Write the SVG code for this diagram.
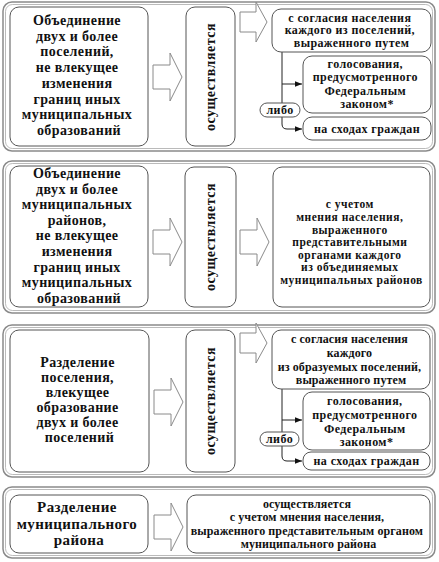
<svg xmlns="http://www.w3.org/2000/svg" width="439" height="562" viewBox="0 0 439 562">
<defs>
<style>
.panel{fill:#fff;stroke:#8a8a8a;stroke-width:1.5}
.panel-in{fill:none;stroke:#a8a8a8;stroke-width:0.8}
.box{fill:#fff;stroke:#555;stroke-width:1}
.big{fill:#fff;stroke:#8a8a8a;stroke-width:1}
.t{font-family:'Liberation Serif','Times New Roman','DejaVu Serif',serif;font-weight:700;fill:#111;text-anchor:middle}
.t13{font-size:14px;letter-spacing:0.4px}
.tv{font-size:14px;letter-spacing:0.5px}
.t12{font-size:12px;letter-spacing:0.4px}
.t12n{font-size:12px;letter-spacing:0.1px}
.t11{font-size:11.5px;letter-spacing:0.5px}
.t14{font-size:15px;letter-spacing:0.4px}
.link{fill:none;stroke:#222;stroke-width:1}
</style>
<marker id="ah" viewBox="0 0 10 10" refX="10" refY="5" markerWidth="7" markerHeight="7" markerUnits="userSpaceOnUse" orient="auto">
<path d="M0,1 L10,5 L0,9 Z" fill="#111"/>
</marker>
<path id="barrow" d="M0,-12 H17 V-24 L29,0 L17,24 V12 H0 Z"/>
<path id="sarrow" d="M0,-10 H16 V-20 L27,0 L16,20 V10 H0 Z"/>
</defs>
<rect width="439" height="562" fill="#fff"/>

<!-- Panels -->
<g id="panel1">
<rect class="panel" x="3" y="2" width="432" height="149" rx="9"/>
<rect class="panel-in" x="5.5" y="4.5" width="427" height="144" rx="7"/>
</g>
<g id="panel2">
<rect class="panel" x="3" y="161" width="432" height="152" rx="9"/>
<rect class="panel-in" x="5.5" y="163.5" width="427" height="147" rx="7"/>
</g>
<g id="panel3">
<rect class="panel" x="3" y="325" width="432" height="152" rx="9"/>
<rect class="panel-in" x="5.5" y="327.5" width="427" height="147" rx="7"/>
</g>
<g id="panel4">
<rect class="panel" x="3" y="487" width="432" height="71" rx="9"/>
<rect class="panel-in" x="5.5" y="489.5" width="427" height="66" rx="7"/>
</g>

<!-- Connectors -->
<g id="connectors">
<use href="#barrow" class="big" transform="translate(153,77)"/>
<use href="#sarrow" class="big" transform="translate(240,22)"/>
<path class="link" d="M282,52 V124 Q282,129 287,129 H302" marker-end="url(#ah)"/>
<path class="link" d="M282,84 H302" marker-end="url(#ah)"/>

<use href="#barrow" class="big" transform="translate(153,242)"/>
<use href="#barrow" class="big" transform="translate(240,242)"/>

<use href="#barrow" class="big" transform="translate(154,402)"/>
<use href="#sarrow" class="big" transform="translate(240,343)"/>
<path class="link" d="M282,389 V456 Q282,461 287,461 H302" marker-end="url(#ah)"/>
<path class="link" d="M282,420 H302" marker-end="url(#ah)"/>

<use href="#barrow" class="big" transform="translate(154,527)"/>
</g>

<!-- Panel 1 nodes -->
<g id="p1-left">
<rect class="box" x="10" y="7" width="138" height="139" rx="9"/>
<text class="t t13">
<tspan x="79" y="25">Объединение</tspan>
<tspan x="79" y="40.7">двух и более</tspan>
<tspan x="79" y="56.4">поселений,</tspan>
<tspan x="79" y="72.1">не влекущее</tspan>
<tspan x="79" y="87.8">изменения</tspan>
<tspan x="79" y="103.5">границ иных</tspan>
<tspan x="79" y="119.2">муниципальных</tspan>
<tspan x="79" y="134.9">образований</tspan>
</text>
</g>
<g id="p1-mid">
<rect class="box" x="186" y="7" width="49" height="139" rx="9"/>
<text class="t tv" transform="translate(215,77) rotate(-90)">осуществляется</text>
</g>
<g id="p1-b1">
<rect class="box" x="272" y="9" width="159" height="43" rx="9"/>
<text class="t t12">
<tspan x="351.5" y="21.5">с согласия населения</tspan>
<tspan x="351.5" y="34">каждого из поселений,</tspan>
<tspan x="351.5" y="46.5">выраженного путем</tspan>
</text>
</g>
<g id="p1-b2">
<rect class="box" x="303" y="56" width="128" height="57" rx="9"/>
<text class="t t12">
<tspan x="367" y="67.5">голосования,</tspan>
<tspan x="367" y="81">предусмотренного</tspan>
<tspan x="367" y="94.5">Федеральным</tspan>
<tspan x="367" y="108">законом*</tspan>
</text>
</g>
<g id="p1-libo">
<rect class="box" x="260" y="103" width="40" height="14" rx="7"/>
<text class="t t12" x="280" y="114">либо</text>
</g>
<g id="p1-b3">
<rect class="box" x="303" y="117" width="128" height="23" rx="9"/>
<text class="t t12" x="367" y="132.5">на сходах граждан</text>
</g>

<!-- Panel 2 nodes -->
<g id="p2-left">
<rect class="box" x="10" y="166" width="138" height="141" rx="9"/>
<text class="t t13">
<tspan x="79" y="178">Объединение</tspan>
<tspan x="79" y="193.6">двух и более</tspan>
<tspan x="79" y="209.2">муниципальных</tspan>
<tspan x="79" y="224.8">районов,</tspan>
<tspan x="79" y="240.4">не влекущее</tspan>
<tspan x="79" y="256">изменения</tspan>
<tspan x="79" y="271.6">границ иных</tspan>
<tspan x="79" y="287.2">муниципальных</tspan>
<tspan x="79" y="302.8">образований</tspan>
</text>
</g>
<g id="p2-mid">
<rect class="box" x="185" y="167" width="51" height="140" rx="9"/>
<text class="t tv" transform="translate(215,237) rotate(-90)">осуществляется</text>
</g>
<g id="p2-right">
<rect class="box" x="273" y="167" width="157" height="140" rx="9"/>
<text class="t t11">
<tspan x="351.5" y="207.5">с учетом</tspan>
<tspan x="351.5" y="221">мнения населения,</tspan>
<tspan x="351.5" y="233.5">выраженного</tspan>
<tspan x="351.5" y="246">представительными</tspan>
<tspan x="351.5" y="258.5">органами каждого</tspan>
<tspan x="351.5" y="271">из объединяемых</tspan>
<tspan x="351.5" y="283.5">муниципальных районов</tspan>
</text>
</g>

<!-- Panel 3 nodes -->
<g id="p3-left">
<rect class="box" x="10" y="330" width="139" height="142" rx="9"/>
<text class="t t13">
<tspan x="79.5" y="367">Разделение</tspan>
<tspan x="79.5" y="382">поселения,</tspan>
<tspan x="79.5" y="397">влекущее</tspan>
<tspan x="79.5" y="412">образование</tspan>
<tspan x="79.5" y="427">двух и более</tspan>
<tspan x="79.5" y="442">поселений</tspan>
</text>
</g>
<g id="p3-mid">
<rect class="box" x="186" y="330" width="49" height="142" rx="9"/>
<text class="t tv" transform="translate(215,401) rotate(-90)">осуществляется</text>
</g>
<g id="p3-b1">
<rect class="box" x="272" y="330" width="158" height="59" rx="9"/>
<text class="t t12n">
<tspan x="351" y="342.5">с согласия населения</tspan>
<tspan x="351" y="356.5">каждого</tspan>
<tspan x="351" y="370.5">из образуемых поселений,</tspan>
<tspan x="351" y="384">выраженного путем</tspan>
</text>
</g>
<g id="p3-b2">
<rect class="box" x="303" y="392" width="127" height="58" rx="9"/>
<text class="t t12">
<tspan x="366.5" y="404.5">голосования,</tspan>
<tspan x="366.5" y="418.5">предусмотренного</tspan>
<tspan x="366.5" y="432.5">Федеральным</tspan>
<tspan x="366.5" y="446">законом*</tspan>
</text>
</g>
<g id="p3-libo">
<rect class="box" x="260" y="432" width="39" height="14" rx="7"/>
<text class="t t12" x="279.5" y="443">либо</text>
</g>
<g id="p3-b3">
<rect class="box" x="303" y="452" width="127" height="18" rx="8"/>
<text class="t t12" x="366.5" y="465">на сходах граждан</text>
</g>

<!-- Panel 4 nodes -->
<g id="p4-left">
<rect class="box" x="10" y="495" width="138" height="58" rx="9"/>
<text class="t t14">
<tspan x="79" y="512">Разделение</tspan>
<tspan x="79" y="528.5">муниципального</tspan>
<tspan x="79" y="545">района</tspan>
</text>
</g>
<g id="p4-right">
<rect class="box" x="187" y="495" width="243" height="58" rx="9"/>
<text class="t t12n">
<tspan x="308.5" y="507.5">осуществляется</tspan>
<tspan x="308.5" y="521">с учетом мнения населения,</tspan>
<tspan x="308.5" y="534.5">выраженного представительным органом</tspan>
<tspan x="308.5" y="548">муниципального района</tspan>
</text>
</g>
</svg>
